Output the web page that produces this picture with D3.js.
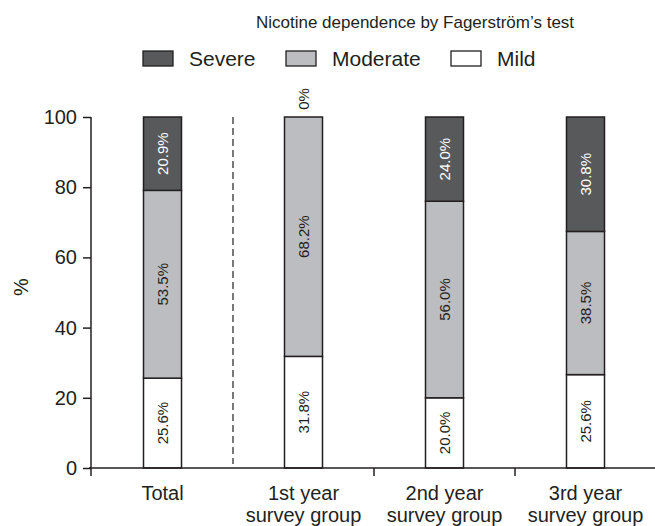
<!DOCTYPE html>
<html>
<head>
<meta charset="utf-8">
<script src="https://cdn.jsdelivr.net/npm/d3@7"></script>
<style>
  body { margin: 0; background: #fff; }
  text { font-family: "Liberation Sans", Arial, sans-serif; fill: #231f20; }
</style>
</head>
<body>
<div id="chart"></div>
<script>
// data
const groups = ['Total', '1st year|survey group', '2nd year|survey group', '3rd year|survey group'];
const seriesNames = ['Mild', 'Moderate', 'Severe'];
// segment heights as drawn in the figure (%)
const mild = [25.6, 31.8, 20.0, 26.6];
const moderate = [53.5, 68.2, 56.0, 40.8];
const severe = [20.9, 0, 24.0, 32.6];
// printed labels
const mildLabels = ['25.6%', '31.8%', '20.0%', '25.6%'];
const moderateLabels = ['53.5%', '68.2%', '56.0%', '38.5%'];
const severeLabels = ['20.9%', '0%', '24.0%', '30.8%'];
const yTicks = [0, 20, 40, 60, 80, 100];

const colors = { Mild: '#ffffff', Moderate: '#bcbdc0', Severe: '#58595b' };
const textColors = { Mild: '#231f20', Moderate: '#231f20', Severe: '#ffffff' };

const W = 655, H = 526;
const svg = d3.select('#chart').append('svg').attr('width', W).attr('height', H);

const x = d3.scaleBand().domain(groups).range([92, 656]);
const y = d3.scaleLinear().domain([0, 100]).range([468, 117]);
const barW = 38;

const table = groups.map((g, i) => ({
  group: g, Mild: mild[i], Moderate: moderate[i], Severe: severe[i],
  labels: { Mild: mildLabels[i], Moderate: moderateLabels[i], Severe: severeLabels[i] }
}));
const stacked = d3.stack().keys(seriesNames)(table);

// title
svg.append('text').attr('x', 415).attr('y', 28).attr('text-anchor', 'middle')
  .style('font-size', '17px').text('Nicotine dependence by Fagerström\u2019s test');

// legend
const legend = [
  { name: 'Severe', x: 143 },
  { name: 'Moderate', x: 286 },
  { name: 'Mild', x: 451 }
];
const lg = svg.append('g').selectAll('g').data(legend).join('g')
  .attr('transform', d => `translate(${d.x},51)`);
lg.append('rect').attr('width', 30).attr('height', 15)
  .attr('fill', d => colors[d.name]).attr('stroke', '#231f20').attr('stroke-width', 1.3);
lg.append('text').attr('x', 46).attr('y', 15).style('font-size', '21px').text(d => d.name);

// bars
const layers = svg.append('g').selectAll('g').data(stacked).join('g');
layers.selectAll('rect').data(d => d.map(v => ({ key: d.key, v })))
  .join('rect')
  .attr('x', d => x(d.v.data.group) + x.bandwidth() / 2 - barW / 2)
  .attr('y', d => y(d.v[1]))
  .attr('width', barW)
  .attr('height', d => y(d.v[0]) - y(d.v[1]))
  .attr('fill', d => colors[d.key])
  .attr('stroke', '#231f20').attr('stroke-width', 1.5);

// segment labels
layers.selectAll('text').data(d => d.map(v => ({ key: d.key, v })))
  .join('text')
  .attr('transform', d => {
    const cx = x(d.v.data.group) + x.bandwidth() / 2;
    const h = d.v[1] - d.v[0];
    const cy = h > 0 ? y((d.v[0] + d.v[1]) / 2) : y(d.v[1]) - 18;
    return `translate(${cx + 5.5},${cy}) rotate(-90)`;
  })
  .attr('text-anchor', 'middle')
  .style('font-size', '15px')
  .style('fill', d => (d.v[1] - d.v[0]) > 0 ? textColors[d.key] : '#231f20')
  .text(d => d.v.data.labels[d.key]);

// y axis
const yAxis = svg.append('g').attr('transform', 'translate(91,0)')
  .call(d3.axisLeft(y).tickValues(yTicks).tickSize(8).tickPadding(6));
yAxis.select('.domain').attr('stroke', '#231f20').attr('stroke-width', 1.5)
  .attr('d', `M0,${y(100)}V${y(0) + 8}`);
yAxis.selectAll('.tick line').attr('stroke', '#231f20').attr('stroke-width', 1.5);
yAxis.selectAll('.tick text').style('font-size', '20px').style('fill', '#231f20');

// x axis
svg.append('line').attr('x1', 89).attr('x2', W).attr('y1', y(0)).attr('y2', y(0))
  .attr('stroke', '#231f20').attr('stroke-width', 1.5);
svg.append('g').selectAll('line').data(groups.slice(2)).join('line')
  .attr('x1', d => x(d)).attr('x2', d => x(d))
  .attr('y1', y(0)).attr('y2', y(0) + 8)
  .attr('stroke', '#231f20').attr('stroke-width', 1.5);

// dashed divider after Total
svg.append('line').attr('x1', x(groups[1])).attr('x2', x(groups[1]))
  .attr('y1', y(100)).attr('y2', y(0) - 4)
  .attr('stroke', '#231f20').attr('stroke-width', 1.2).attr('stroke-dasharray', '7,4');

// category labels
const cat = svg.append('g').selectAll('text').data(groups).join('text')
  .attr('x', d => x(d) + x.bandwidth() / 2)
  .attr('y', 500)
  .attr('text-anchor', 'middle')
  .style('font-size', '20px');
cat.selectAll('tspan').data(d => d.split('|')).join('tspan')
  .attr('x', function () { return d3.select(this.parentNode).attr('x'); })
  .attr('dy', (d, i) => i === 0 ? 0 : 22)
  .text(d => d);

// y label
svg.append('text').attr('transform', `translate(28,287) rotate(-90)`)
  .attr('text-anchor', 'middle').style('font-size', '20px').text('%');
</script>
</body>
</html>
